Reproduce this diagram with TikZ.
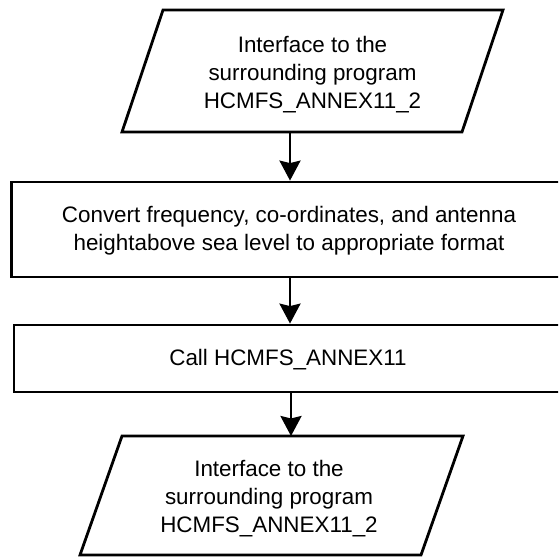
\documentclass[tikz,border=0pt]{standalone}
\usepackage{fontspec}
\setmainfont{Liberation Sans}
\usetikzlibrary{arrows.meta}
\begin{document}
\begin{tikzpicture}[x=1pt,y=-1pt,
  shapeline/.style={draw=black,line width=2.8pt,line join=miter},
  lbl/.style={align=center,font=\fontsize{22.4}{28}\selectfont,inner sep=0pt},
  flow/.style={line width=2.6pt,-{Stealth[length=20pt,width=21pt,inset=2.5pt]}}]
\useasboundingbox (0,0) rectangle (558,559);
\clip (0,0) rectangle (558,559);
% top parallelogram
\draw[shapeline] (163,10) -- (503,10) -- (462,132) -- (122,132) -- cycle;
\node[lbl] (in1) at (312.5,75) {Interface to the\\surrounding program\\HCMFS\_ANNEX11\_2};
\coordinate (in1out) at (290,132);
% convert box
\node[shapeline,inner sep=0pt,minimum width=568.5pt,minimum height=95pt] (conv) at (295.75,229.5) {};
\node[lbl] (convtxt) at (289,231) {Convert frequency, co-ordinates, and antenna\\heightabove sea level to appropriate format};
% call box
\node[shapeline,inner sep=0pt,minimum width=566pt,minimum height=67pt] (call) at (297,358.5) {};
\node[lbl] (calltxt) at (288,360) {Call HCMFS\_ANNEX11};
% bottom parallelogram
\draw[shapeline] (122,436) -- (463,436) -- (421,555) -- (80,555) -- cycle;
\node[lbl] (out1) at (269,499) {Interface to the\\surrounding program\\HCMFS\_ANNEX11\_2};
\coordinate (out1in) at (291,436);
% connectors
\draw[flow] (in1out) -- (conv.north -| in1out);
\draw[flow] (conv.south -| in1out) -- (call.north -| in1out);
\draw[flow] (call.south -| out1in) -- (out1in);
\end{tikzpicture}
\end{document}
